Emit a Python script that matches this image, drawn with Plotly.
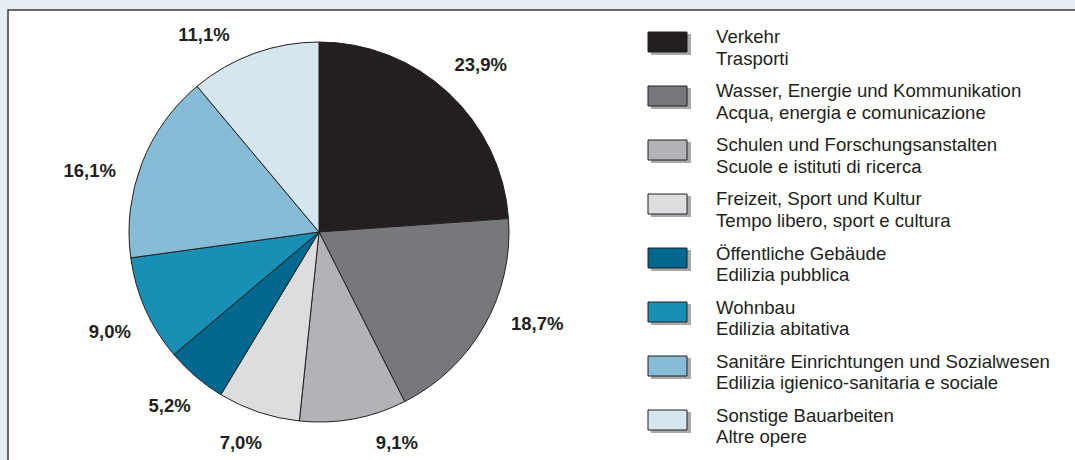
import plotly.graph_objects as go

# %%
kategorien_de = ['Verkehr', 'Wasser, Energie und Kommunikation', 'Schulen und Forschungsanstalten',
                 'Freizeit, Sport und Kultur', 'Öffentliche Gebäude', 'Wohnbau',
                 'Sanitäre Einrichtungen und Sozialwesen', 'Sonstige Bauarbeiten']
categorie_it = ['Trasporti', 'Acqua, energia e comunicazione', 'Scuole e istituti di ricerca',
                'Tempo libero, sport e cultura', 'Edilizia pubblica', 'Edilizia abitativa',
                'Edilizia igienico-sanitaria e sociale', 'Altre opere']
anteile = [23.9, 18.7, 9.1, 7.0, 5.2, 9.0, 16.1, 11.1]
etiketten = ['23,9%', '18,7%', '9,1%', '7,0%', '5,2%', '9,0%', '16,1%', '11,1%']
farben = ['#231f20', '#77787b', '#b1b3b6', '#dcdddf', '#00688f', '#1a8fb5', '#86bcd5', '#d5e6ef']

W, H = 1075, 460
cx, cy, r = 319, 232, 190
r_lab = 207   # unsichtbarer Kreis, der die Beschriftungen weiter nach aussen schiebt


def dom(rad):
    return dict(x=[(cx - rad) / W, (cx + rad) / W],
                y=[(H - cy - rad) / H, (H - cy + rad) / H])


# %%
fig = go.Figure()
fig.add_trace(go.Pie(labels=kategorien_de,
                     values=anteile,
                     textinfo='none',
                     marker=dict(colors=farben, line=dict(color='#231f20', width=1)),
                     sort=False,
                     direction='clockwise',
                     rotation=0,
                     domain=dom(r),
                     showlegend=False,
                     hoverinfo='label+percent'))
fig.add_trace(go.Pie(labels=kategorien_de,
                     values=anteile,
                     text=['<b>' + t + '</b>' for t in etiketten],
                     textinfo='text',
                     textposition='outside',
                     outsidetextfont=dict(family='Liberation Sans', size=18.5, color='#231f20'),
                     marker=dict(colors=['rgba(0,0,0,0)'] * len(anteile), line=dict(width=0)),
                     sort=False,
                     direction='clockwise',
                     rotation=-4,
                     domain=dom(r_lab),
                     showlegend=False,
                     hoverinfo='skip'))

# %%
shapes = [dict(type='rect', xref='paper', yref='paper',
               x0=8 / W, x1=1.05, y0=-0.05, y1=(H - 10) / H,
               fillcolor='white', line=dict(color='#3a3a3a', width=1.5), layer='below')]
annotations = []
for i in range(len(kategorien_de)):
    yc = 42 + i * 54   # Mitte des Legendenfelds (px von oben)
    # Schatten
    shapes.append(dict(type='rect', xref='paper', yref='paper',
                       x0=651 / W, x1=691 / W, y0=(H - yc - 13) / H, y1=(H - yc + 8) / H,
                       fillcolor='#a7a9ac', line=dict(width=0)))
    shapes.append(dict(type='rect', xref='paper', yref='paper',
                       x0=648 / W, x1=687 / W, y0=(H - yc - 10) / H, y1=(H - yc + 10) / H,
                       fillcolor=farben[i], line=dict(color='#231f20', width=1)))
    annotations.append(dict(x=714 / W, y=(H - yc + 5) / H, xref='paper', yref='paper',
                            text=kategorien_de[i], showarrow=False, xanchor='left', yanchor='middle',
                            font=dict(family='Liberation Sans', size=18.6, color='#231f20')))
    annotations.append(dict(x=714 / W, y=(H - yc - 16) / H, xref='paper', yref='paper',
                            text=categorie_it[i], showarrow=False, xanchor='left', yanchor='middle',
                            font=dict(family='Liberation Sans', size=18.6, color='#231f20')))

fig.update_layout(width=W, height=H,
                  margin=dict(l=0, r=0, t=0, b=0),
                  paper_bgcolor='#e6eff5',
                  plot_bgcolor='white',
                  font=dict(family='Liberation Sans', color='#231f20'),
                  shapes=shapes,
                  annotations=annotations)

fig.write_html("out.html",
               config={'displayModeBar': False},
               post_script="document.body.style.margin='0';document.body.style.background='#e6eff5';")
